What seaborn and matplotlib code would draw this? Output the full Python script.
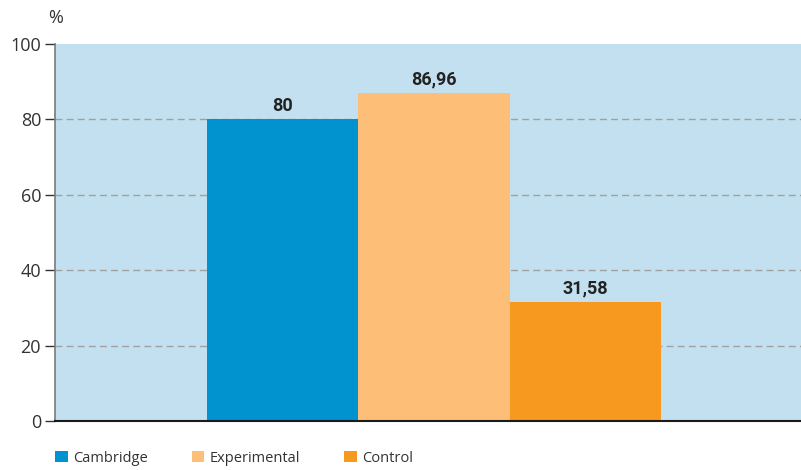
import matplotlib
matplotlib.use("Agg")
import matplotlib.pyplot as plt
from matplotlib.patches import Patch
import seaborn as sns
import pandas as pd

groups = ["Cambridge", "Experimental", "Control"]
values = [80, 86.96, 31.58]
value_labels = ["80", "86,96", "31,58"]
colors = ["#0093D0", "#FDBF78", "#F7981F"]
y_ticks = [0, 20, 40, 60, 80, 100]

df = pd.DataFrame({"group": groups, "value": values})

sns.set_theme(style="white")
plt.rcParams["font.family"] = ["Open Sans", "DejaVu Sans"]

fig = plt.figure(figsize=(8.01, 4.70), dpi=100)
ax = fig.add_axes([55 / 801, 1 - 421 / 470, 1 - 55 / 801, (421 - 44) / 470])
ax.set_facecolor("#C3E0F0")

sns.barplot(data=df, x="group", y="value", hue="group", order=groups,
            palette=colors, width=1.0, saturation=1, legend=False, ax=ax,
            zorder=3, linewidth=0, edgecolor="none")

ax.set_xlim(-1.505, 3.425)
ax.set_ylim(0, 100)
ax.set_yticks(y_ticks)
ax.set_yticklabels([str(t) for t in y_ticks], fontsize=13, color="#333333")
ax.set_xticks([])
ax.set_xlabel("")
ax.set_ylabel("")

for y in y_ticks[1:-1]:
    ax.axhline(y, color="#A0A0A0", lw=1, ls=(0, (5, 3)), zorder=1)

for s in ["top", "right"]:
    ax.spines[s].set_visible(False)
ax.spines["left"].set_color("#7A7A7A")
ax.spines["left"].set_linewidth(1.2)
ax.spines["bottom"].set_color("#1A1A1A")
ax.spines["bottom"].set_linewidth(1.5)
ax.spines["bottom"].set_zorder(5)
ax.tick_params(axis="y", left=True, length=7, width=1, color="#333333", pad=3)

bold_font = ["Liberation Sans Narrow", "Roboto", "DejaVu Sans"]
for i, (v, lab) in enumerate(zip(values, value_labels)):
    ax.text(i, v + 1.2, lab, ha="center", va="bottom", fontsize=13,
            fontweight="bold", color="#222222", family=bold_font)

fig.text(48 / 801, 1 - 18 / 470, "%", fontsize=13, color="#333333",
         ha="left", va="center")

handles = [Patch(facecolor=c, edgecolor="none", label=g) for g, c in zip(groups, colors)]
fig.legend(handles=handles, loc="center left", bbox_to_anchor=(42 / 801, 1 - 458 / 470),
           ncol=3, frameon=False, fontsize=10.5, handlelength=0.85, handleheight=0.85,
           handletextpad=0.4, columnspacing=3.0, labelcolor="#333333")

fig.savefig("out.png", dpi=100)
